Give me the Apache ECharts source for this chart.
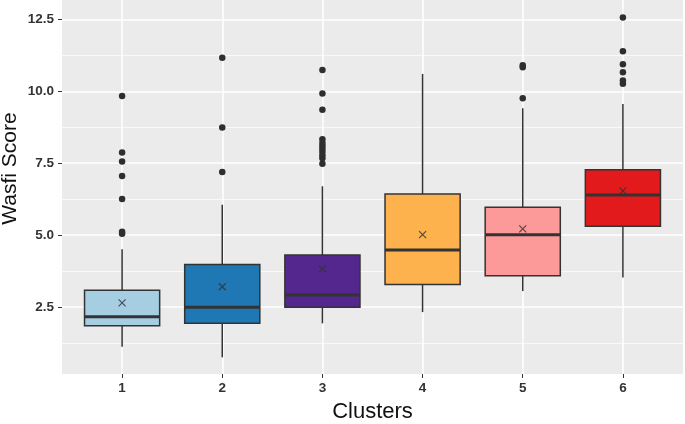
<!DOCTYPE html>
<html>
<head>
<meta charset="utf-8">
<script src="https://cdn.jsdelivr.net/npm/echarts@6/dist/echarts.min.js"></script>
<style>html,body{margin:0;padding:0;background:#fff}#c{width:685px;height:424px}</style>
</head>
<body>
<div id="c"></div>
<script>
const categories = ['1', '2', '3', '4', '5', '6'];
const whiskerLow = [1.13, 0.76, 1.94, 2.33, 3.06, 3.53];
const q1 = [1.86, 1.94, 2.50, 3.29, 3.59, 5.31];
const median = [2.17, 2.50, 2.92, 4.49, 5.02, 6.40];
const q3 = [3.09, 3.98, 4.31, 6.43, 5.97, 7.27];
const whiskerHigh = [4.51, 6.06, 6.70, 10.60, 9.41, 9.56];
const means = [2.65, 3.21, 3.83, 5.02, 5.22, 6.54];
const outliers = [
  [5.05, 5.12, 6.26, 7.06, 7.56, 7.87, 9.84],
  [7.20, 8.74, 11.16],
  [7.48, 7.67, 7.78, 7.90, 8.00, 8.10, 8.20, 8.33, 9.36, 9.92, 10.74],
  [],
  [9.76, 10.83, 10.90],
  [10.26, 10.37, 10.66, 10.94, 11.39, 12.56]
];
const yTicks = [2.5, 5.0, 7.5, 10.0, 12.5];
const yMinorTicks = [1.25, 3.75, 6.25, 8.75, 11.25];
const yRange = [0.18, 13.17];

const fills = ['#A6CEE3', '#1F78B4', '#54278F', '#FDB24D', '#FB9A99', '#E31A1C'];

const boxData = categories.map((c, i) => [i + 1, whiskerLow[i], q1[i], median[i], q3[i], whiskerHigh[i]]);
const meanData = categories.map((c, i) => [i + 1, means[i]]);
const outlierData = [];
outliers.forEach((arr, i) => arr.forEach(v => outlierData.push([i + 1, v])));
const xTicks = categories.map((c, i) => i + 1);

const chart = echarts.init(document.getElementById('c'), null, {renderer: 'canvas'});
const labelFont = {fontFamily: 'Liberation Sans', fontSize: 13.5, fontWeight: 'bold', color: '#333'};
chart.setOption({
  animation: false,
  grid: {left: 62, right: 2, top: 0, bottom: 50, show: true, backgroundColor: '#EBEBEB', borderWidth: 0,
         containLabel: false, outerBoundsMode: 'none'},
  xAxis: {
    type: 'value', min: 0.4, max: 6.6,
    name: 'Clusters', nameLocation: 'middle', nameGap: 27, nameMoveOverlap: false,
    nameTextStyle: {fontFamily: 'Liberation Sans', fontSize: 22, color: '#111'},
    axisLine: {show: false},
    axisTick: {show: true, length: 4, lineStyle: {color: '#333', width: 1}, customValues: xTicks},
    axisLabel: Object.assign({margin: 7, customValues: xTicks, formatter: v => categories[Math.round(v) - 1] || ''}, labelFont),
    splitLine: {show: true, lineStyle: {color: '#fff', width: 1.5}}
  },
  yAxis: [{
    type: 'value', min: yRange[0], max: yRange[1],
    name: 'Wasfi Score', nameLocation: 'middle', nameGap: 41, nameMoveOverlap: false,
    nameTextStyle: {fontFamily: 'Liberation Sans', fontSize: 21, color: '#111', padding: [0, 0, 0, 37]},
    axisLine: {show: false},
    axisTick: {show: true, length: 4, lineStyle: {color: '#333', width: 1}, customValues: yTicks},
    axisLabel: Object.assign({margin: 8, customValues: yTicks, formatter: v => v.toFixed(1)}, labelFont),
    splitLine: {show: true, lineStyle: {color: '#fff', width: 1.5}}
  }, {
    type: 'value', min: yRange[0], max: yRange[1], position: 'left',
    axisLine: {show: false},
    axisTick: {show: false, customValues: yMinorTicks},
    axisLabel: {show: false, customValues: yMinorTicks},
    splitLine: {show: true, lineStyle: {color: '#fff', width: 0.7}}
  }],
  series: [{
    type: 'custom',
    data: boxData,
    z: 3,
    renderItem: function (params, api) {
      const i = params.dataIndex;
      const x = api.value(0);
      const pLow = api.coord([x, api.value(1)]);
      const pQ1 = api.coord([x, api.value(2)]);
      const pMed = api.coord([x, api.value(3)]);
      const pQ3 = api.coord([x, api.value(4)]);
      const pHigh = api.coord([x, api.value(5)]);
      const half = api.size([0.75, 0])[0] / 2;
      const cx = pMed[0];
      const stroke = '#333333';
      return {type: 'group', children: [
        {type: 'line', shape: {x1: cx, y1: pLow[1], x2: cx, y2: pQ1[1]}, style: {stroke: stroke, lineWidth: 1.5}},
        {type: 'line', shape: {x1: cx, y1: pQ3[1], x2: cx, y2: pHigh[1]}, style: {stroke: stroke, lineWidth: 1.5}},
        {type: 'rect', shape: {x: cx - half, y: pQ3[1], width: 2 * half, height: pQ1[1] - pQ3[1]}, style: {fill: fills[i], stroke: stroke, lineWidth: 1.5}},
        {type: 'line', shape: {x1: cx - half, y1: pMed[1], x2: cx + half, y2: pMed[1]}, style: {stroke: stroke, lineWidth: 3}}
      ]};
    }
  }, {
    type: 'scatter',
    data: outlierData,
    z: 4,
    symbol: 'circle',
    symbolSize: 6.5,
    itemStyle: {color: '#2E2E2E', opacity: 1}
  }, {
    type: 'scatter',
    data: meanData,
    z: 5,
    symbol: 'path://M0,0L10,10M10,0L0,10',
    symbolSize: 7,
    itemStyle: {color: 'none', borderColor: '#333', borderWidth: 1.3}
  }]
});
</script>
</body>
</html>
